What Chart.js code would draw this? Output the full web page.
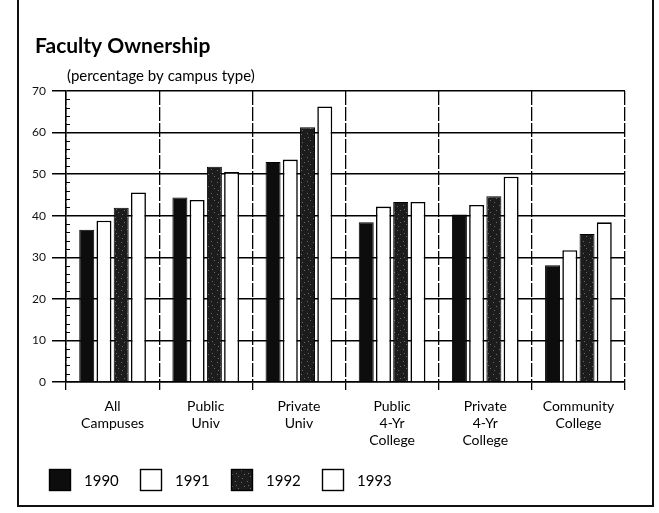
<!DOCTYPE html>
<html>
<head>
<meta charset="utf-8">
<script src="https://cdn.jsdelivr.net/npm/chart.js@4.4.1/dist/chart.umd.min.js"></script>
<style>
  html, body { margin: 0; padding: 0; background: #fff; }
  #wrap { position: relative; width: 659px; height: 513px; overflow: hidden; }
  #frame {
    position: absolute; left: 17px; top: -4px; width: 637px; height: 511px;
    border-left: 2px solid #111; border-right: 2px solid #111; border-bottom: 2px solid #111;
    box-sizing: border-box;
  }
  #facultyChart { position: absolute; left: 0; top: 0; }
</style>
</head>
<body>
<div id="wrap">
  <div id="frame"></div>
  <canvas id="facultyChart" width="659" height="513"></canvas>
</div>
<script>
const categories = [
    ['All', 'Campuses'],
    ['Public', 'Univ'],
    ['Private', 'Univ'],
    ['Public', '4-Yr', 'College'],
    ['Private', '4-Yr', 'College'],
    ['Community', 'College']
];
const years = ['1990', '1991', '1992', '1993'];
const values1990 = [36.6, 44.4, 52.9, 38.4, 40.3, 28.1];
const values1991 = [38.8, 43.8, 53.5, 42.2, 42.6, 31.7];
const values1992 = [41.9, 51.8, 61.3, 43.3, 44.7, 35.6];
const values1993 = [45.6, 50.5, 66.3, 43.3, 49.4, 38.4];

const titleText = 'Faculty Ownership';
const subtitleText = '(percentage by campus type)';
const fontFamily = 'Lato, "Noto Sans", sans-serif';

// speckled dark fill for 1992, like the photocopied screen tone
function speckle() {
    const c = document.createElement('canvas');
    c.width = 12; c.height = 12;
    const g = c.getContext('2d');
    g.fillStyle = '#1c1c1c';
    g.fillRect(0, 0, 12, 12);
    g.fillStyle = '#6a6a6a';
    [[1, 2], [7, 1], [4, 6], [10, 8], [2, 10], [8, 5]].forEach(p => g.fillRect(p[0], p[1], 1, 1));
    return g.createPattern(c, 'repeat');
}

const ctx = document.getElementById('facultyChart').getContext('2d');

const data = {
    labels: categories,
    datasets: [
        { label: years[0], data: values1990, backgroundColor: '#0d0d0d', borderColor: '#000', borderWidth: 1 },
        { label: years[1], data: values1991, backgroundColor: '#fff', borderColor: '#000', borderWidth: 1.6 },
        { label: years[2], data: values1992, backgroundColor: speckle(), borderColor: '#000', borderWidth: 1 },
        { label: years[3], data: values1993, backgroundColor: '#fff', borderColor: '#000', borderWidth: 1.6 }
    ]
};

// title, subtitle, minor y ticks and the legend row
const decor = {
    id: 'decor',
    afterDraw(chart) {
        const c = chart.ctx;
        const area = chart.chartArea;
        const y = chart.scales.y;
        c.save();
        c.fillStyle = '#000';
        c.textBaseline = 'alphabetic';
        c.textAlign = 'left';
        c.font = 'bold 21px ' + fontFamily;
        c.fillText(titleText, 35, 53);
        c.font = '15px ' + fontFamily;
        c.fillText(subtitleText, area.left + 1, 81);

        // minor ticks every 2 units, pointing into the plot
        c.strokeStyle = '#000';
        c.lineWidth = 1;
        for (let v = 2; v < 70; v += 2) {
            if (v % 10 === 0) continue;
            const py = Math.round(y.getPixelForValue(v)) + 0.5;
            c.beginPath();
            c.moveTo(area.left, py);
            c.lineTo(area.left + 4, py);
            c.stroke();
        }

        // legend
        c.font = '15px ' + fontFamily;
        c.textBaseline = 'middle';
        chart.data.datasets.forEach((ds, i) => {
            const x = 49 + i * 91;
            c.fillStyle = ds.backgroundColor;
            c.fillRect(x, 469, 22, 22);
            c.lineWidth = 1.4;
            c.strokeStyle = '#000';
            c.strokeRect(x + 0.5, 469.5, 21, 21);
            c.fillStyle = '#000';
            c.fillText(ds.label, x + 35, 481);
        });
        c.restore();
    }
};

const config = {
    type: 'bar',
    data: data,
    options: {
        responsive: false,
        animation: false,
        layout: {
            padding: { left: 20, right: 34, top: 91, bottom: 0 }
        },
        datasets: {
            bar: {
                categoryPercentage: 0.74,
                barPercentage: 0.87
            }
        },
        scales: {
            x: {
                afterFit: function(scale) {
                    scale.height = 131;
                },
                grid: {
                    offset: true,
                    color: '#000',
                    lineWidth: 1.3,
                    tickLength: 8
                },
                border: { display: true, color: '#000', width: 1.6, dash: [14, 2] },
                ticks: {
                    color: '#000',
                    font: { family: fontFamily, size: 14 },
                    padding: 8,
                    maxRotation: 0,
                    autoSkip: false
                }
            },
            y: {
                min: 0,
                max: 70,
                afterFit: function(scale) {
                    scale.width = 46;
                },
                grid: {
                    color: '#000',
                    lineWidth: 1.5,
                    tickLength: 14
                },
                border: { display: true, color: '#000', width: 1.5 },
                ticks: {
                    stepSize: 10,
                    color: '#111',
                    padding: 6,
                    font: { family: fontFamily, size: 12 }
                }
            }
        },
        plugins: {
            legend: { display: false },
            tooltip: { enabled: false }
        }
    },
    plugins: [decor]
};

const myChart = new Chart(ctx, config);
</script>
</body>
</html>
